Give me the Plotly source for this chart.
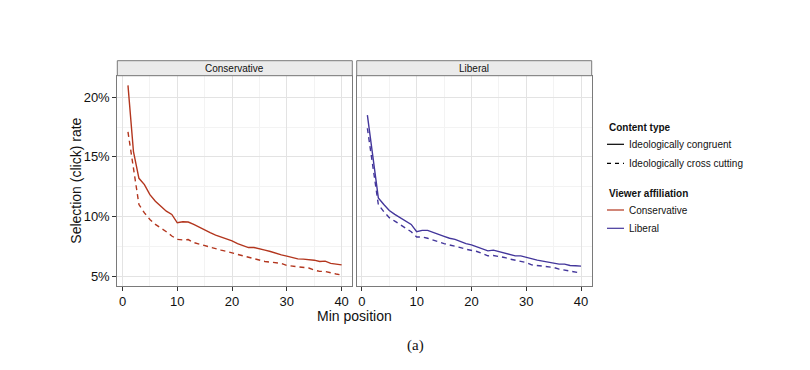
import plotly.graph_objects as go

positions = list(range(1, 41))

cons_congruent = [21.0, 15.44, 13.2, 12.67, 11.83, 11.28, 10.86, 10.44, 10.17, 9.47,
                  9.55, 9.53, 9.33, 9.1, 8.83, 8.64, 8.44, 8.28, 8.14, 7.95,
                  7.72, 7.55, 7.39, 7.39, 7.25, 7.17, 7.06, 6.89, 6.78, 6.67,
                  6.56, 6.44, 6.42, 6.39, 6.33, 6.22, 6.25, 6.06, 6.0, 5.94]
cons_cross = [17.1, 14.06, 11.0, 10.3, 9.75, 9.33, 9.06, 8.72, 8.36, 8.08,
              8.03, 8.06, 7.81, 7.67, 7.53, 7.39, 7.28, 7.17, 7.06, 6.94,
              6.83, 6.72, 6.61, 6.5, 6.33, 6.22, 6.17, 6.11, 6.06, 5.89,
              5.83, 5.78, 5.72, 5.67, 5.5, 5.39, 5.39, 5.31, 5.17, 5.08]
lib_congruent = [18.5, 14.9, 11.56, 11.0, 10.5, 10.17, 9.89, 9.61, 9.33, 8.72,
                 8.83, 8.83, 8.69, 8.5, 8.33, 8.17, 8.08, 7.89, 7.72, 7.61,
                 7.44, 7.33, 7.11, 7.17, 7.06, 6.94, 6.83, 6.69, 6.69, 6.56,
                 6.42, 6.33, 6.25, 6.17, 6.06, 6.0, 6.0, 5.89, 5.86, 5.83]
lib_cross = [17.4, 14.3, 11.0, 10.4, 9.9, 9.61, 9.33, 9.06, 8.72, 8.28,
             8.28, 8.17, 8.0, 7.89, 7.72, 7.61, 7.53, 7.39, 7.25, 7.17,
             7.06, 6.89, 6.69, 6.72, 6.67, 6.56, 6.42, 6.33, 6.28, 6.14,
             5.94, 5.89, 5.86, 5.78, 5.72, 5.58, 5.5, 5.44, 5.31, 5.25]

panels = ["Conservative", "Liberal"]
content_types = ["Ideologically congruent", "Ideologically cross cutting"]
y_ticks = [5, 10, 15, 20]
y_tick_labels = ["5%", "10%", "15%", "20%"]
x_ticks = [0, 10, 20, 30, 40]

COL_CONS = "#b3361e"
COL_LIB = "#43369b"
W, H = 810, 370
OFF = 8  # page body margin
FONT = "Arial"


def px_x(p):
    return (p - OFF) / W


def px_y(p):
    return 1 - (p - OFF) / H


fig = go.Figure()

series = [
    ("x", "y", cons_congruent, COL_CONS, "solid"),
    ("x", "y", cons_cross, COL_CONS, "5px,4px"),
    ("x2", "y2", lib_congruent, COL_LIB, "solid"),
    ("x2", "y2", lib_cross, COL_LIB, "5px,4px"),
]
for xa, ya, vals, col, dash in series:
    fig.add_trace(go.Scatter(x=positions, y=vals, xaxis=xa, yaxis=ya, mode="lines",
                             line=dict(color=col, width=1.4, dash=dash),
                             showlegend=False, hoverinfo="skip"))

ydom = [px_y(285.7), px_y(75.7)]
xdom1 = [px_x(117.3), px_x(352.3)]
xdom2 = [px_x(356.7), px_x(591.7)]

common_x = dict(range=[-0.95, 41.95], tickvals=x_ticks, ticks="outside", ticklen=4,
                tickcolor="#333333", tickfont=dict(family=FONT, size=13, color="#111111"),
                showgrid=True, gridcolor="#e3e3e3", gridwidth=1, zeroline=False,
                showline=True, mirror=True, linecolor="#7a7a7a", linewidth=1,
                minor=dict(dtick=5, tick0=0, showgrid=True, gridcolor="#f3f3f3", gridwidth=1, ticks=""))
common_y = dict(range=[4.19, 21.81], tickvals=y_ticks, showgrid=True, gridcolor="#e3e3e3",
                gridwidth=1, zeroline=False, showline=True, mirror=True,
                linecolor="#7a7a7a", linewidth=1,
                minor=dict(tickvals=[7.5, 12.5, 17.5], showgrid=True, gridcolor="#f3f3f3", gridwidth=1, ticks=""))

fig.update_layout(
    width=W, height=H, margin=dict(l=0, r=0, t=0, b=0),
    paper_bgcolor="white", plot_bgcolor="white", showlegend=False,
    xaxis=dict(domain=xdom1, anchor="y", **common_x),
    xaxis2=dict(domain=xdom2, anchor="y2", **common_x),
    yaxis=dict(domain=ydom, anchor="x", ticktext=y_tick_labels, ticks="outside", ticklen=4,
               tickcolor="#333333", tickfont=dict(family=FONT, size=13, color="#111111"),
               **common_y),
    yaxis2=dict(domain=ydom, anchor="x2", showticklabels=False, ticks="", **common_y),
)

shapes = []
annotations = []
# strips
for dom, label in zip([xdom1, xdom2], panels):
    shapes.append(dict(type="rect", xref="paper", yref="paper", x0=dom[0], x1=dom[1],
                       y0=px_y(75.7), y1=px_y(60.7), fillcolor="#ebebeb",
                       line=dict(color="#7a7a7a", width=1), layer="above"))
    annotations.append(dict(xref="paper", yref="paper", x=(dom[0] + dom[1]) / 2, y=px_y(68.2),
                            text=label, showarrow=False, xanchor="center", yanchor="middle",
                            font=dict(family=FONT, size=10, color="#111111")))

# axis titles
annotations.append(dict(xref="paper", yref="paper", x=px_x(354.5), y=px_y(316), text="Min position",
                        showarrow=False, xanchor="center", yanchor="middle",
                        font=dict(family=FONT, size=14, color="#111111")))
annotations.append(dict(xref="paper", yref="paper", x=px_x(76), y=px_y(180.7),
                        text="Selection (click) rate", textangle=-90, showarrow=False,
                        xanchor="center", yanchor="middle",
                        font=dict(family=FONT, size=14, color="#111111")))
annotations.append(dict(xref="paper", yref="paper", x=px_x(415), y=px_y(345), text="(a)",
                        showarrow=False, xanchor="center", yanchor="middle",
                        font=dict(family="Liberation Serif", size=15, color="#111111")))

# legend
legend_items = [
    ("title", "Content type", 127.3, None, None),
    ("item", content_types[0], 144.3, "#000000", "solid"),
    ("item", content_types[1], 163.3, "#000000", "4px,4px"),
    ("title", "Viewer affiliation", 193.3, None, None),
    ("item", panels[0], 210.0, COL_CONS, "solid"),
    ("item", panels[1], 228.3, COL_LIB, "solid"),
]
for kind, text, yy, col, dash in legend_items:
    if kind == "title":
        annotations.append(dict(xref="paper", yref="paper", x=px_x(606.5), y=px_y(yy),
                                text="<b>" + text + "</b>", showarrow=False,
                                xanchor="left", yanchor="middle",
                                font=dict(family=FONT, size=10, color="#111111")))
    else:
        shapes.append(dict(type="line", xref="paper", yref="paper", x0=px_x(607), x1=px_x(624),
                           y0=px_y(yy), y1=px_y(yy), line=dict(color=col, width=1.2, dash=dash)))
        annotations.append(dict(xref="paper", yref="paper", x=px_x(627), y=px_y(yy),
                                text=text, showarrow=False, xanchor="left", yanchor="middle",
                                font=dict(family=FONT, size=10, color="#111111")))

fig.update_layout(shapes=shapes, annotations=annotations)
fig.write_html("out.html")
